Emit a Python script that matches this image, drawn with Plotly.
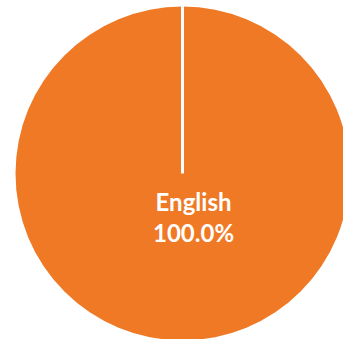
import plotly.graph_objects as go

# Data
labels = ["English"]
values = [100.0]
colors = ["#EF7925"]

# Canvas slightly larger than the viewport so the pie is clipped at right/bottom like the reference
W, H = 352, 342
cx, cy, r = 182.5, 173.5, 167.0  # pie centre / radius in pixels (layout only)

fig = go.Figure()
fig.add_trace(go.Pie(
    labels=labels,
    values=values,
    marker=dict(colors=colors, line=dict(width=0)),
    textinfo="none",
    hoverinfo="label+percent",
    sort=False,
    direction="clockwise",
    rotation=0,
    showlegend=False,
    domain=dict(x=[(cx - r) / W, (cx + r) / W], y=[1 - (cy + r) / H, 1 - (cy - r) / H]),
))

# white separator line where the single slice starts/ends (12 o'clock)
fig.add_shape(type="line", xref="paper", yref="paper",
              x0=cx / W, x1=cx / W, y0=1 - cy / H, y1=1 - (cy - r - 1) / H,
              line=dict(color="white", width=3))

total = sum(values)
label_text = "<br>".join([f"{labels[0]}", f"{values[0] / total * 100:.1f}%"])
fig.add_annotation(x=193 / W, y=1 - 217 / H, xref="paper", yref="paper",
                   text=label_text, showarrow=False,
                   font=dict(family="Lato", size=24, color="white", weight=700),
                   xanchor="center", yanchor="middle", align="center")

fig.update_layout(width=W, height=H, margin=dict(l=0, r=0, t=0, b=0),
                  paper_bgcolor="white", plot_bgcolor="white")

fig.write_html("out.html", post_script=(
    "document.documentElement.style.overflow='hidden';"
    "document.body.style.overflow='hidden';document.body.style.margin='0';"))
